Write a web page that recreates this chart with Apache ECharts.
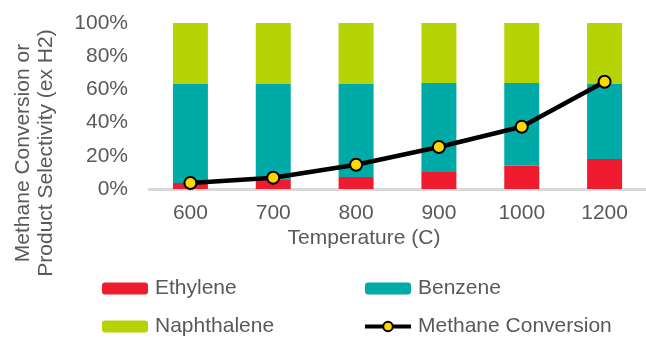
<!DOCTYPE html>
<html>
<head>
<meta charset="utf-8">
<script src="https://cdn.jsdelivr.net/npm/echarts@6/dist/echarts.min.js"></script>
<style>
  html, body { margin: 0; padding: 0; background: #fff; }
  #chart { width: 646px; height: 340px; }
</style>
</head>
<body>
<div id="chart"></div>
<script>
// Reactor temperature (C)
const categories = ['600', '700', '800', '900', '1000', '1200'];
// Product selectivity, % (excluding H2)
const ethylene = [3.6, 5.4, 7.2, 10.2, 14.0, 18.0];
const benzene = [59.7, 57.9, 56.1, 53.7, 49.9, 45.3];
const naphthalene = [36.7, 36.7, 36.7, 36.1, 36.1, 36.7];
// Methane conversion, %
const methaneConversion = [3.6, 6.8, 14.6, 25.3, 37.5, 64.6];
const yTicks = [0, 20, 40, 60, 80, 100];

const FONT = '"Liberation Sans", Arial, sans-serif';
const TEXT = '#595959';

const chart = echarts.init(document.getElementById('chart'), null, { renderer: 'canvas' });

const legendText = { fontFamily: FONT, fontSize: 21, color: TEXT, lineHeight: 21, padding: [0, 0, 0, 2] };

chart.setOption({
  animation: false,
  backgroundColor: '#ffffff',
  grid: { left: 149, right: -7, top: 23, bottom: 151, containLabel: false },
  xAxis: {
    type: 'category',
    data: categories,
    axisLine: { show: true, lineStyle: { color: '#D9D9D9', width: 3 } },
    axisTick: { show: false },
    axisLabel: { fontFamily: FONT, fontSize: 21, color: TEXT, margin: 14 }
  },
  yAxis: {
    type: 'value',
    min: yTicks[0],
    max: yTicks[yTicks.length - 1],
    interval: yTicks[1] - yTicks[0],
    axisLine: { show: false },
    axisTick: { show: false },
    splitLine: { show: false },
    axisLabel: { fontFamily: FONT, fontSize: 21, color: TEXT, margin: 21, formatter: '{value}%' }
  },
  legend: [
    {
      orient: 'vertical', left: 102, top: 278, padding: 0, itemGap: 17,
      itemWidth: 46, itemHeight: 12,
      data: ['Ethylene', 'Naphthalene'],
      textStyle: legendText
    },
    {
      orient: 'vertical', left: 363, top: 278, padding: 0, itemGap: 17,
      itemWidth: 46, itemHeight: 12,
      lineStyle: { width: 4, color: '#000000' },
      data: ['Benzene', 'Methane Conversion'],
      textStyle: legendText
    }
  ],
  graphic: [
    {
      type: 'text', x: 35, y: 153, rotation: Math.PI / 2,
      style: {
        text: 'Methane Conversion or\nProduct Selectivity (ex H2)',
        font: '21px ' + FONT, fill: TEXT, align: 'center', verticalAlign: 'middle', lineHeight: 23
      }
    },
    {
      type: 'text', x: 364, y: 238,
      style: {
        text: 'Temperature (C)',
        font: '21px ' + FONT, fill: TEXT, align: 'center', verticalAlign: 'middle'
      }
    }
  ],
  series: [
    { name: 'Ethylene', type: 'bar', stack: 'sel', barWidth: 35, data: ethylene, itemStyle: { color: '#EE1C2E' } },
    { name: 'Benzene', type: 'bar', stack: 'sel', barWidth: 35, data: benzene, itemStyle: { color: '#00AAA7' } },
    { name: 'Naphthalene', type: 'bar', stack: 'sel', barWidth: 35, data: naphthalene, itemStyle: { color: '#B6D405' } },
    {
      name: 'Methane Conversion', type: 'line', data: methaneConversion, z: 5,
      symbol: 'circle', symbolSize: 12,
      lineStyle: { color: '#000000', width: 4.5 },
      itemStyle: { color: '#FFD700', borderColor: '#000000', borderWidth: 2 }
    }
  ]
});
</script>
</body>
</html>
